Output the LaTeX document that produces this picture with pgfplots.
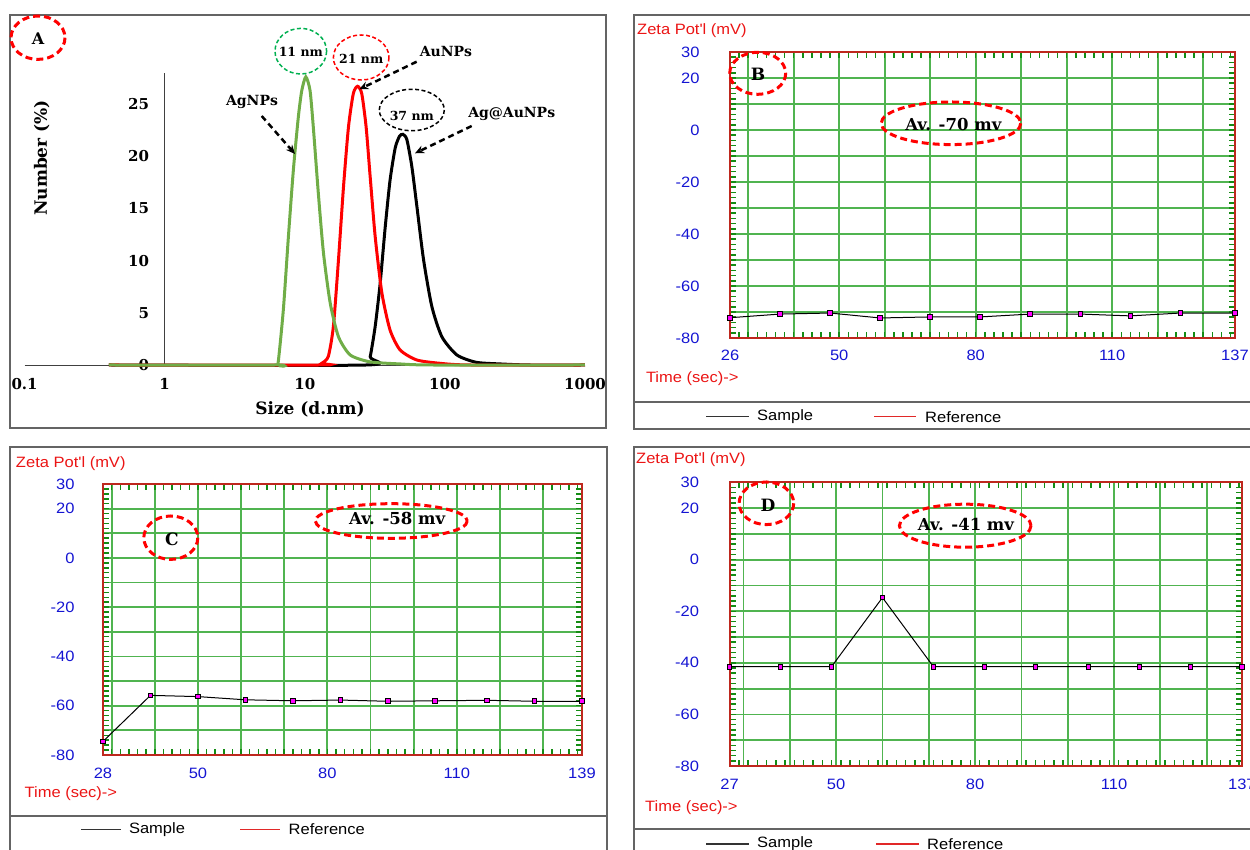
\documentclass[border=0pt]{standalone}
\usepackage{fontspec}
\usepackage{pgfplots}
\pgfplotsset{compat=1.18}
\usetikzlibrary{arrows.meta}
\newfontfamily\slab{DejaVu Serif}
\newfontfamily\zsans[FakeStretch=1.1]{Liberation Sans}
\definecolor{zred}{RGB}{235,20,20}
\definecolor{zblue}{RGB}{20,20,210}
\definecolor{zframe}{RGB}{190,40,30}
\definecolor{zgrid}{RGB}{80,180,80}
\definecolor{ztick}{RGB}{20,140,20}
\definecolor{agreen}{RGB}{112,173,71}
\definecolor{cgreen}{RGB}{0,176,80}
\definecolor{mag}{RGB}{255,0,255}
\definecolor{boxgray}{RGB}{100,100,100}
\definecolor{legred}{RGB}{225,40,40}

\pgfplotsset{
  zeta/.style={
    scale only axis, anchor=south west, clip=false,
    ymin=-80, ymax=30,
    ytick={-80,-70,...,30},
    yticklabels={-80,,-60,,-40,,-20,,0,,20,30},
    minor ytick={-78,-76,...,28},
    xtick={30,40,...,130}, xticklabels={},
    grid=major,
    major grid style={draw=zgrid, line width=1.8pt},
    axis line style={draw=zframe, line width=2pt},
    major tick length=0pt, minor tick length=6pt,
    minor tick style={draw=ztick, line width=1.5pt},
    ticklabel style={font=\zsans\fontsize{15}{18}\selectfont, text=zblue},
    xticklabel style={yshift=-9pt},
    extra x tick style={grid=none, major tick length=0pt},
    /pgf/number format/assume math mode=true,
  },
  samp/.style={black, line width=1pt, mark=square*, mark size=2.3pt,
    mark options={fill=mag, draw=none}},
}

\begin{document}
\begin{tikzpicture}
\useasboundingbox (0,0) rectangle (1250pt,850pt);

% ---- A: size distribution
\begin{axis}[scale only axis, anchor=south west, at={(24.6pt,485pt)},
  width=560.4pt, height=292.3pt,
  xmode=log, xmin=0.1, xmax=1000, ymin=0, ymax=28,
  axis line style={draw=none}, tick style={draw=none}, clip=false,
  xtick={0.1,1,10,100,1000}, xticklabels={0.1,1,10,100,1000},
  ytick={0,5,10,15,20,25}, yticklabels={0,5,10,15,20,25},
  ticklabel style={font=\slab\bfseries\fontsize{15}{18}\selectfont},
  xticklabel style={yshift=-10pt}, yticklabel style={xshift=128pt},
  /pgf/number format/assume math mode=true]
\draw[black!75, line width=0.9pt] (axis cs:0.1,0) -- (axis cs:1000,0);
\draw[black!75, line width=0.9pt] (axis cs:1,0) -- (axis cs:1,28);
\addplot[black, line width=3pt, smooth, tension=0.4] coordinates {
 (0.4,0) (27.5,0) (29.3,0.8) (31.8,3.7) (34.5,7.8) (37.5,13.2) (40.6,17.7)
 (44.2,20.8) (47.4,21.9) (50.1,22.1) (53.5,21.6) (58.1,19.0) (63.1,15.2)
 (70.4,10.1) (80.7,5.6) (95.2,2.7) (121.8,0.96) (167,0.26) (248,0.1) (400,0) (1000,0)};
\addplot[red, line width=3pt, smooth, tension=0.4] coordinates {
 (0.4,0) (12.8,0) (13.2,0.16) (14.7,0.8) (16.0,3.7) (17.4,10.1) (18.9,17.1)
 (20.5,22.8) (22.2,26.0) (23.8,26.7) (25.5,26.0) (27.4,22.8) (29.3,18.0)
 (31.8,12.3) (35.5,6.9) (40.6,3.35) (47.9,1.44) (63,0.48) (92.5,0.16) (150,0) (1000,0)};
\addplot[agreen, line width=3pt, smooth, tension=0.4] coordinates {
 (0.4,0) (6.2,0) (6.45,0.2) (7.03,5.3) (7.64,12.3) (8.29,18.7) (9.0,23.8)
 (9.52,26.3) (10.17,27.6) (10.9,26.3) (11.5,22.8) (12.5,16.4) (13.6,10.7)
 (15.2,5.9) (17.4,2.7) (21.1,0.96) (29.2,0.3) (47.9,0.1) (80,0) (1000,0)};
\end{axis}

% ---- B
\begin{axis}[zeta, at={(730pt,512pt)}, width=505pt, height=286pt,
  xmin=26, xmax=137, minor xtick={28,30,...,136},
  extra x ticks={26,50,80,110,137}, extra x tick labels={26,50,80,110,137},
  yticklabel style={xshift=-27pt}]
\addplot[samp] coordinates {(26,-72.2) (37,-70.8) (48,-70.4) (59,-72.3) (70,-71.9)
 (81,-71.9) (92,-70.8) (103,-70.8) (114,-71.5) (125,-70.4) (137,-70.4)};
\end{axis}

% ---- C
\begin{axis}[zeta, at={(103pt,95pt)}, width=479pt, height=271pt,
  xmin=28, xmax=139, minor xtick={30,32,...,138},
  extra x ticks={28,50,80,110,139}, extra x tick labels={28,50,80,110,139},
  yticklabel style={xshift=-25pt}]
\addplot[samp] coordinates {(28,-74.5) (39,-55.8) (50,-56.3) (61,-57.6) (72,-58.0)
 (83,-57.7) (94,-58.2) (105,-58.0) (117,-57.8) (128,-58.2) (139,-58.2)};
\end{axis}

% ---- D
\begin{axis}[zeta, at={(729.6pt,84pt)}, width=512.3pt, height=283.7pt,
  xmin=27, xmax=137.6, minor xtick={29,31,...,137},
  extra x ticks={27,50,80,110,137.6}, extra x tick labels={27,50,80,110,137},
  yticklabel style={xshift=-27pt}]
\addplot[samp] coordinates {(27,-41.5) (38,-41.5) (49,-41.5) (60,-14.7) (71,-41.5)
 (82,-41.5) (93,-41.5) (104.5,-41.5) (115.5,-41.5) (126.5,-41.5) (137.6,-41.5)};
\end{axis}

% ---- frames, labels, annotations (pixel coordinates, y downwards)
\begin{scope}[x=1pt, y=-1pt, yshift=850pt]
\draw[boxgray, line width=2pt] (10,15) rectangle (606,428);
\draw[boxgray, line width=2pt] (1255,15) -- (634,15) -- (634,429) -- (1255,429);
\draw[boxgray, line width=2pt] (634,401.7) -- (1255,401.7);
\draw[boxgray, line width=2pt] (10,855) -- (10,447) -- (607,447) -- (607,855);
\draw[boxgray, line width=2pt] (10,815.7) -- (607,815.7);
\draw[boxgray, line width=2pt] (1255,447) -- (634,447) -- (634,855);
\draw[boxgray, line width=2pt] (634,829.3) -- (1255,829.3);

% A labels
\node[font=\slab\bfseries\fontsize{17}{20}\selectfont] at (310,409) {Size (d.nm)};
\node[rotate=90, font=\slab\bfseries\fontsize{17}{20}\selectfont] at (41.7,158) {Number (\%)};
\draw[red, line width=3pt, dash pattern=on 7pt off 4pt] (38,37.7) ellipse [x radius=27, y radius=21.7];
\node[font=\slab\bfseries\fontsize{16}{18}\selectfont] at (38,39) {A};
\draw[cgreen, line width=1.5pt, dash pattern=on 4pt off 2.5pt] (300.8,51.2) ellipse [x radius=25.8, y radius=22.8];
\node[font=\slab\bfseries\fontsize{12.5}{14}\selectfont] at (300.8,52) {11 nm};
\draw[red, line width=1.5pt, dash pattern=on 4pt off 2.5pt] (361.2,57.5) ellipse [x radius=27.8, y radius=22.5];
\node[font=\slab\bfseries\fontsize{12.5}{14}\selectfont] at (361.2,59) {21 nm};
\draw[black, line width=1.5pt, dash pattern=on 4pt off 2.5pt] (411.8,110) ellipse [x radius=32.5, y radius=20.7];
\node[font=\slab\bfseries\fontsize{12.5}{14}\selectfont] at (411.8,116) {37 nm};
\node[font=\slab\bfseries\fontsize{14}{16}\selectfont] at (252,102) {AgNPs};
\node[font=\slab\bfseries\fontsize{14}{16}\selectfont] at (446,52) {AuNPs};
\node[font=\slab\bfseries\fontsize{14}{16}\selectfont] at (511.7,114) {Ag@AuNPs};
\draw[black, line width=2.5pt, dash pattern=on 6pt off 4pt, -{Stealth[length=9pt,width=8pt]}] (261.7,116) -- (295,154);
\draw[black, line width=2.5pt, dash pattern=on 6pt off 4pt, -{Stealth[length=9pt,width=8pt]}] (416.7,61.7) -- (359.3,89.3);
\draw[black, line width=2.5pt, dash pattern=on 6pt off 4pt, -{Stealth[length=9pt,width=8pt]}] (471.7,126) -- (415,153.3);

% B, C, D annotations
\draw[red, line width=3pt, dash pattern=on 7pt off 4pt] (757.7,73.3) ellipse [x radius=28, y radius=21];
\node[font=\slab\bfseries\fontsize{17}{20}\selectfont] at (758,74.5) {B};
\draw[red, line width=3pt, dash pattern=on 7pt off 4pt] (951,123.3) ellipse [x radius=69.8, y radius=21.3];
\node[font=\slab\bfseries\fontsize{16.5}{19}\selectfont] at (953.3,125) {Av. -70 mv};
\draw[red, line width=3pt, dash pattern=on 7pt off 4pt] (170.8,537.7) ellipse [x radius=27, y radius=21.7];
\node[font=\slab\bfseries\fontsize{17}{20}\selectfont] at (172,539) {C};
\draw[red, line width=3pt, dash pattern=on 7pt off 4pt] (391.3,521) ellipse [x radius=76, y radius=17.3];
\node[font=\slab\bfseries\fontsize{16.5}{19}\selectfont] at (397.2,518.3) {Av. -58 mv};
\draw[red, line width=3pt, dash pattern=on 7pt off 4pt] (766.4,503.3) ellipse [x radius=27.3, y radius=21.3];
\node[font=\slab\bfseries\fontsize{17}{20}\selectfont] at (768,505) {D};
\draw[red, line width=3pt, dash pattern=on 7pt off 4pt] (965.2,525.7) ellipse [x radius=65.8, y radius=21.5];
\node[font=\slab\bfseries\fontsize{16.5}{19}\selectfont] at (966,525) {Av. -41 mv};

\begin{scope}[font=\zsans\fontsize{15}{18}\selectfont]
\node[anchor=west, inner sep=0, text=zred] at (637,30.5) {Zeta Pot'l (mV)};
\node[anchor=west, inner sep=0, text=zred] at (15.8,463.3) {Zeta Pot'l (mV)};
\node[anchor=west, inner sep=0, text=zred] at (636,460) {Zeta Pot'l (mV)};
\node[anchor=west, inner sep=0, text=zred] at (645.8,379) {Time (sec)->};
\node[anchor=west, inner sep=0, text=zred] at (24.5,794) {Time (sec)->};
\node[anchor=west, inner sep=0, text=zred] at (645,807.3) {Time (sec)->};
% legends
\draw[black!80, line width=1.3pt] (706,416.7) -- (748.6,416.7);
\node[anchor=west, inner sep=0] at (757,416.7) {Sample};
\draw[legred, line width=1.3pt] (874,416.7) -- (916,416.7);
\node[anchor=west, inner sep=0] at (925,416.7) {Reference};
\draw[black!80, line width=1.3pt] (81,829.3) -- (120.5,829.3);
\node[anchor=west, inner sep=0] at (128.8,829.3) {Sample};
\draw[legred, line width=1.3pt] (240,829.3) -- (280,829.3);
\node[anchor=west, inner sep=0] at (288.5,829.3) {Reference};
\draw[black!80, line width=1.3pt] (706,844) -- (748.6,844);
\node[anchor=west, inner sep=0] at (757,844) {Sample};
\draw[legred, line width=1.3pt] (875.8,844) -- (918.5,844);
\node[anchor=west, inner sep=0] at (927,844) {Reference};
\end{scope}
\end{scope}
\end{tikzpicture}
\end{document}
